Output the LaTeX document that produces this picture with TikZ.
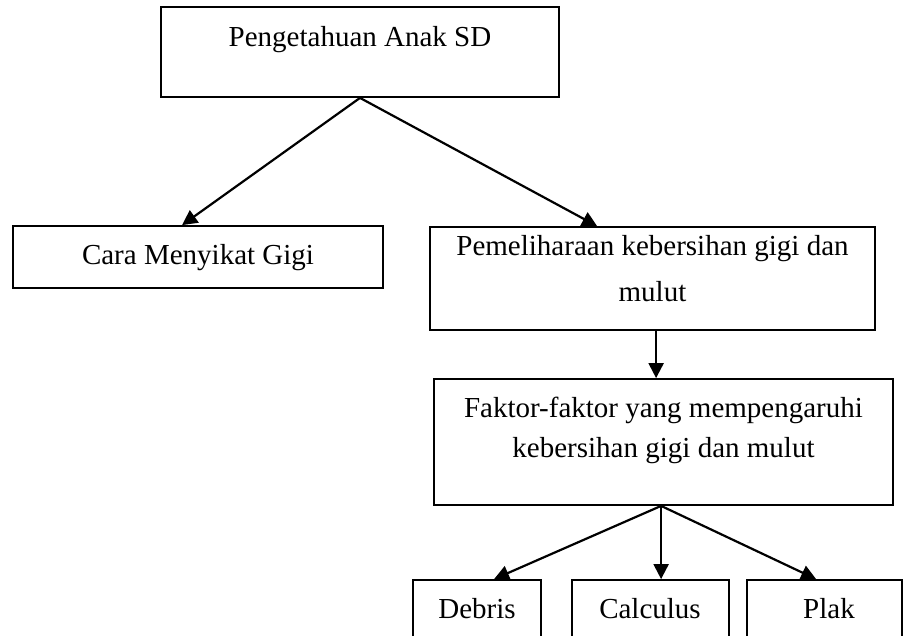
\documentclass[tikz,border=0pt]{standalone}
\usepackage{fontspec}
\setmainfont{Liberation Serif}
\usetikzlibrary{arrows.meta}
\begin{document}
\begin{tikzpicture}[x=1pt,y=-1pt,
  box/.style={draw, line width=1.8pt, inner sep=0pt},
  txt/.style={anchor=base, inner sep=0pt, font=\fontsize{29pt}{35pt}\selectfont},
  conn/.style={line width=2.2pt, -{Triangle[length=15pt,width=15pt]}}]
\useasboundingbox (0,0) rectangle (904,636);
\clip (0,0) rectangle (904,636);
% boxes
\node[box, minimum width=398pt, minimum height=90pt]  (top)  at (360,52) {};
\node[box, minimum width=370pt, minimum height=62pt]  (cara) at (198,257) {};
\node[box, minimum width=445pt, minimum height=103pt] (pem)  at (652.5,278.5) {};
\node[box, minimum width=459pt, minimum height=126pt] (fak)  at (663.5,442) {};
\node[box, minimum width=128pt, minimum height=80pt]  (deb)  at (477,620) {};
\node[box, minimum width=157pt, minimum height=80pt]  (cal)  at (650.5,620) {};
\node[box, minimum width=155pt, minimum height=80pt]  (pla)  at (824.5,620) {};
% texts
\node[txt] (ttop) at (360,47) {Pengetahuan Anak SD};
\node[txt] (tcara) at (198,265) {Cara Menyikat Gigi};
\node[txt] (tpemA) at (652.5,255) {Pemeliharaan kebersihan gigi dan};
\node[txt] (tpemB) at (652.5,301) {mulut};
\node[txt] (tfakA) at (663.5,417) {Faktor-faktor yang mempengaruhi};
\node[txt] (tfakB) at (663.5,457) {kebersihan gigi dan mulut};
\node[txt] (tdeb) at (477,618) {Debris};
\node[txt] (tcal) at (650,618) {Calculus};
\node[txt] (tpla) at (829,618) {Plak};
% connectors
\draw[conn] (top.south) -- ([xshift=170pt]cara.north west);
\draw[conn] (top.south) -- ([xshift=168pt]pem.north west);
\draw[conn] ([xshift=227pt]pem.south west) -- ([xshift=223pt]fak.north west);
\draw[conn] ([xshift=228pt]fak.south west) -- ([xshift=82pt]deb.north west);
\draw[conn] ([xshift=228pt]fak.south west) -- ([xshift=90pt]cal.north west);
\draw[conn] ([xshift=228pt]fak.south west) -- ([xshift=70pt]pla.north west);
\end{tikzpicture}
\end{document}
